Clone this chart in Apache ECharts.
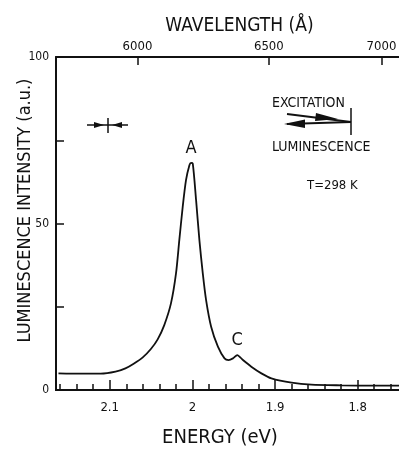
<!DOCTYPE html>
<html><head><meta charset="utf-8">
<script src="https://cdn.jsdelivr.net/npm/echarts@6/dist/echarts.min.js"></script>
<style>html,body{margin:0;padding:0;background:#fff}#c{width:399px;height:454px}</style>
</head><body><div id="c"></div>
<script>
// Data
const energy    = [2.162, 2.135, 2.111, 2.093, 2.081, 2.071, 2.060, 2.0502, 2.0420, 2.0340, 2.0259, 2.0198, 2.0158, 2.0117, 2.0077, 2.0036, 2.0016, 1.9995, 1.9955, 1.9915, 1.9874, 1.9834, 1.9773, 1.9691, 1.9611, 1.9563, 1.9509, 1.9457, 1.9388, 1.9287, 1.9165, 1.9044, 1.880, 1.856, 1.819, 1.783, 1.748];
const intensity = [5.0,   4.9,   4.9,   5.5,   6.5,   7.9,   9.8,   12.3,   15.2,   19.5,   26.0,   35.0,   45.0,   55.0,   63.0,   67.5,   68.2,   68.0,   57.0,   45.0,   35.0,   27.0,   19.0,   13.0,   9.5,    9.0,    9.5,    10.5,   9.0,    7.0,    5.0,    3.5,    2.2,   1.6,   1.4,   1.3,   1.3];
const energyTickLabels = [2.1, 2.0, 1.9, 1.8];
const energyMinorTicks = [1.76, 1.78, 1.80, 1.82, 1.84, 1.86, 1.88, 1.90, 1.92, 1.94, 1.96, 1.98, 2.00, 2.02, 2.04, 2.06, 2.08, 2.10, 2.12, 2.14, 2.16];
const wavelengthTicks = [6000, 6500, 7000];
const intensityLabels = [0, 50, 100];
const peakNames = ['A', 'C'];
const peakEnergy = [2.0016, 1.9457];
const peakIntensity = [68.2, 10.5];
const HC = 12398.4; // eV·Å

const FONT = "'Liberation Sans Narrow','DejaVu Sans Condensed','Liberation Sans',sans-serif";
const chart = echarts.init(document.getElementById('c'));
const ink = '#111';

const E_MIN = 1.75, E_MAX = 2.165;
const gridRect = {left: 56, right: 0, top: 57, bottom: 64, outerBoundsMode: 'none', containLabel: false};

chart.setOption({
  animation: false,
  backgroundColor: '#fff',
  grid: [Object.assign({}, gridRect), Object.assign({}, gridRect)],
  xAxis: [
    {
      type: 'value', gridIndex: 0, min: E_MIN, max: E_MAX, inverse: true, splitLine: {show: false},
      position: 'bottom',
      name: 'ENERGY (eV)', nameLocation: 'middle', nameGap: 38,
      nameTextStyle: {fontFamily: FONT, fontSize: 20, color: ink, padding: [0, 15, 0, 0]},
      axisLine: {lineStyle: {color: ink, width: 2}},
      axisTick: {inside: true, length: 10, lineStyle: {color: ink, width: 1.5}, customValues: energyTickLabels},
      axisLabel: {customValues: energyTickLabels, margin: 11, fontFamily: FONT, fontSize: 13, color: ink,
                  formatter: v => String(Math.round(v * 10) / 10)}
    },
    {
      type: 'value', gridIndex: 0, min: E_MIN, max: E_MAX, inverse: true, splitLine: {show: false},
      position: 'top',
      name: 'WAVELENGTH (Å)', nameLocation: 'middle', nameGap: 21,
      nameTextStyle: {fontFamily: FONT, fontSize: 19, color: ink, padding: [0, 0, 0, 24]},
      axisLine: {lineStyle: {color: ink, width: 2}},
      axisTick: {inside: true, length: 8, lineStyle: {color: ink, width: 1.5}, customValues: wavelengthTicks.map(w => HC / w)},
      axisLabel: {customValues: wavelengthTicks.map(w => HC / w), margin: 4, fontFamily: FONT, fontSize: 13, color: ink,
                  formatter: v => String(Math.round(HC / v / 10) * 10)}
    },
    {
      type: 'value', gridIndex: 1, min: E_MIN, max: E_MAX, inverse: true, splitLine: {show: false},
      position: 'bottom', show: true,
      axisLine: {show: true, onZero: false, lineStyle: {color: ink, width: 2}},
      axisTick: {show: true, inside: true, length: 6, lineStyle: {color: ink, width: 1.5}, customValues: energyMinorTicks},
      axisLabel: {show: true, customValues: energyMinorTicks, formatter: () => ''}
    }
  ],
  yAxis: [
    {
      type: 'value', gridIndex: 0, min: 0, max: 100, interval: 25,
      name: 'LUMINESCENCE INTENSITY (a.u.)', nameLocation: 'middle', nameGap: 22, nameMoveOverlap: false,
      nameTextStyle: {fontFamily: FONT, fontSize: 18, color: ink, padding: [0, 0, 0, 26]},
      axisLine: {show: true, lineStyle: {color: ink, width: 2}},
      axisTick: {show: true, inside: true, length: 8, lineStyle: {color: ink, width: 1.5}},
      splitLine: {show: false},
      axisLabel: {margin: 7, fontFamily: FONT, fontSize: 12, color: ink,
                  formatter: v => intensityLabels.indexOf(v) >= 0 ? String(v) : ''}
    },
    {
      type: 'value', gridIndex: 1, min: 0, max: 100, show: true,
      axisLine: {show: false}, axisTick: {show: false}, axisLabel: {show: false}, splitLine: {show: false}
    }
  ],
  series: [{
    type: 'line', xAxisIndex: 0, yAxisIndex: 0, smooth: 0.25, symbol: 'none',
    lineStyle: {color: ink, width: 1.8},
    data: energy.map((e, i) => [e, intensity[i]]),
    markPoint: {
      symbol: 'circle', symbolSize: 0,
      label: {show: true, position: 'top', distance: 6, fontFamily: FONT, fontSize: 18, color: ink,
              formatter: p => p.name},
      data: peakNames.map((n, i) => ({name: n, coord: [peakEnergy[i], peakIntensity[i]]}))
    }
  }, {
    type: 'line', xAxisIndex: 2, yAxisIndex: 1, symbol: 'none', silent: true, data: []
  }],
  graphic: [
    // resolution marker (top left)
    {type: 'line', shape: {x1: 87, y1: 125, x2: 128, y2: 125}, style: {stroke: ink, lineWidth: 1.5}},
    {type: 'line', shape: {x1: 108, y1: 118, x2: 108, y2: 133}, style: {stroke: ink, lineWidth: 1.5}},
    {type: 'polygon', shape: {points: [[94, 122], [104, 125], [94, 128]]}, style: {fill: ink}},
    {type: 'polygon', shape: {points: [[122, 122], [112, 125], [122, 128]]}, style: {fill: ink}},
    // excitation / luminescence legend
    {type: 'text', left: 272, top: 96, style: {text: 'EXCITATION', font: '14px ' + FONT, fill: ink}},
    {type: 'line', shape: {x1: 287, y1: 114, x2: 351, y2: 122}, style: {stroke: ink, lineWidth: 1.8}},
    {type: 'polygon', shape: {points: [[316, 113], [338, 119], [315, 121]]}, style: {fill: ink}},
    {type: 'line', shape: {x1: 287, y1: 124, x2: 351, y2: 122}, style: {stroke: ink, lineWidth: 1.8}},
    {type: 'polygon', shape: {points: [[284, 124], [305, 119.5], [305, 128]]}, style: {fill: ink}},
    {type: 'line', shape: {x1: 351, y1: 108, x2: 351, y2: 135}, style: {stroke: ink, lineWidth: 1.5}},
    {type: 'text', left: 272, top: 140, style: {text: 'LUMINESCENCE', font: '14px ' + FONT, fill: ink}},
    {type: 'text', left: 307, top: 179, style: {text: 'T=298 K', font: '13px ' + FONT, fill: ink}}
  ]
});
</script>
</body></html>
